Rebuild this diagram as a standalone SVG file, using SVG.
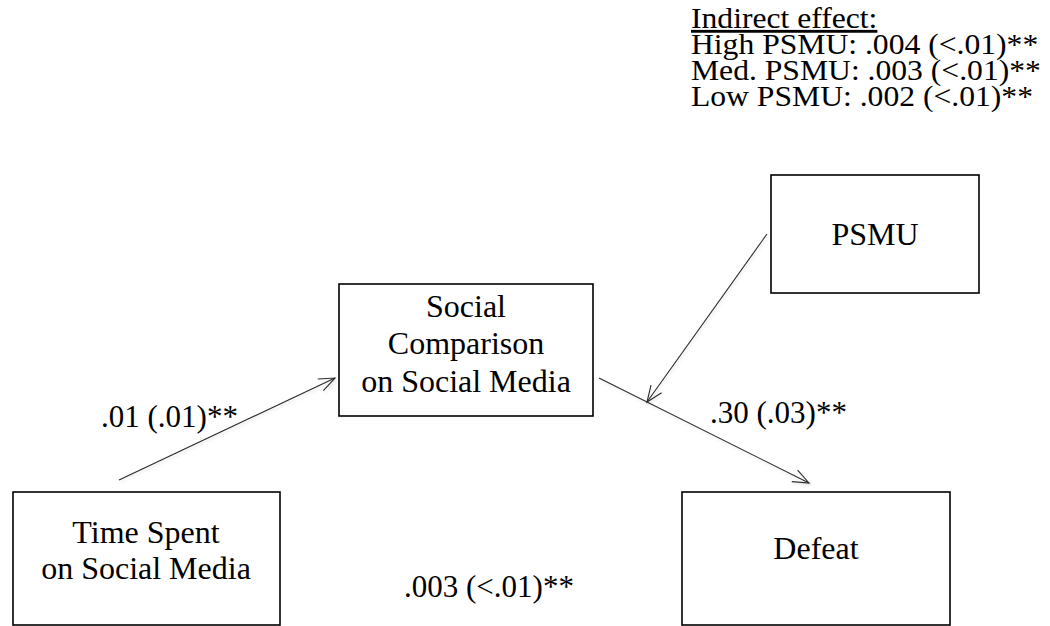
<svg xmlns="http://www.w3.org/2000/svg" width="1050" height="626" viewBox="0 0 1050 626">
<style>
  .box { fill: #ffffff; stroke: #000000; stroke-width: 1.6; }
  .t { font-family: "Liberation Serif", "Times New Roman", serif; font-size: 32px; fill: #000000; }
  .lbl { font-family: "Liberation Serif", "Times New Roman", serif; font-size: 31px; fill: #000000; }
  .note { font-family: "Liberation Serif", "Times New Roman", serif; font-size: 28.5px; fill: #000000; }
  .c { text-anchor: middle; }
  .edge { stroke: #2a2a2a; stroke-width: 1.1; fill: none; marker-end: url(#arr); filter: url(#sh); }
</style>
<defs>
  <marker id="arr" markerUnits="userSpaceOnUse" markerWidth="20" markerHeight="16" refX="17" refY="8" orient="auto">
    <path d="M1,1.5 L17,8 L1,14.5" fill="none" stroke="#2a2a2a" stroke-width="1.1"/>
  </marker>
  <filter id="sh" x="-20%" y="-20%" width="140%" height="140%">
    <feDropShadow dx="1" dy="2" stdDeviation="1.5" flood-color="#000000" flood-opacity="0.12"/>
  </filter>
</defs>

<g id="indirect-note" transform="translate(691,0) scale(1.11,1)">
  <text class="note" x="0" y="28" text-decoration="underline">Indirect effect:</text>
  <text class="note" x="0" y="54">High PSMU: .004 (&lt;.01)**</text>
  <text class="note" x="0" y="80">Med. PSMU: .003 (&lt;.01)**</text>
  <text class="note" x="0" y="106">Low PSMU: .002 (&lt;.01)**</text>
</g>

<g id="connectors">
  <line class="edge" x1="119" y1="480" x2="335" y2="378"/>
  <line class="edge" x1="599" y1="378" x2="809" y2="483"/>
  <line class="edge" x1="767" y1="234" x2="647" y2="402"/>
  <line class="edge" x1="287" y1="558" x2="671" y2="558"/>
  <text class="lbl" x="101" y="427">.01 (.01)**</text>
  <text class="lbl" x="710" y="423">.30 (.03)**</text>
  <text class="lbl" x="404" y="597">.003 (&lt;.01)**</text>
</g>

<g id="node-social-comparison">
  <rect class="box" x="339" y="284" width="254" height="132"/>
  <text class="t c" x="466" y="317">Social</text>
  <text class="t c" x="466" y="354">Comparison</text>
  <text class="t c" x="466" y="392">on Social Media</text>
</g>

<g id="node-psmu">
  <rect class="box" x="771" y="175" width="208" height="118"/>
  <text class="t c" x="875" y="245">PSMU</text>
</g>

<g id="node-time-spent">
  <rect class="box" x="13" y="492" width="267" height="133"/>
  <text class="t c" x="146" y="543">Time Spent</text>
  <text class="t c" x="146" y="579">on Social Media</text>
</g>

<g id="node-defeat">
  <rect class="box" x="682" y="492" width="268" height="133"/>
  <text class="t c" x="816" y="559">Defeat</text>
</g>
</svg>
